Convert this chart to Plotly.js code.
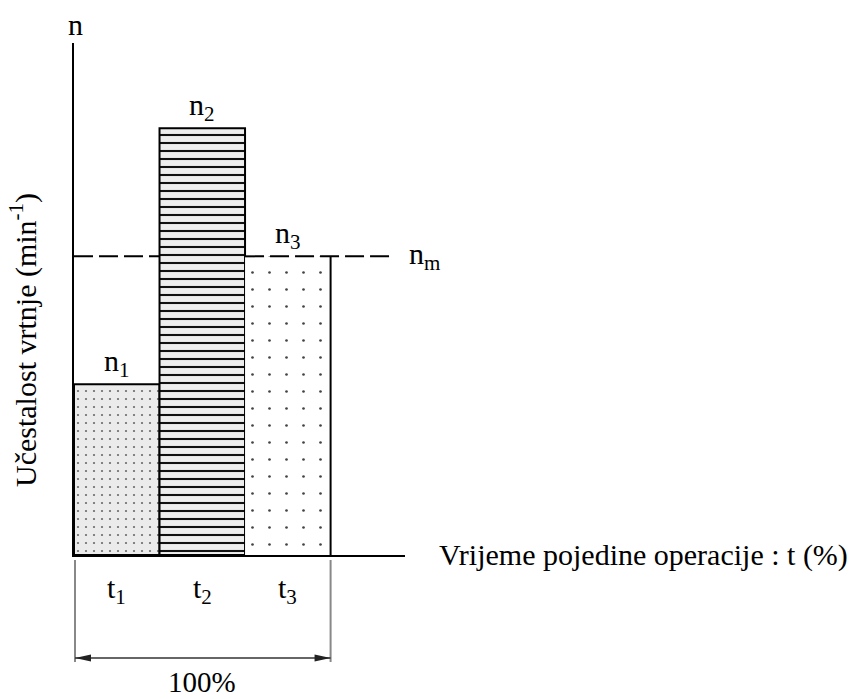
<!DOCTYPE html>
<html>
<head>
<meta charset="utf-8">
<script src="https://cdn.plot.ly/plotly-3.0.1.min.js"></script>
<style>
html,body{margin:0;padding:0;background:#fff;}
#warm{position:absolute;left:68px;top:6px;z-index:0;font-family:'Liberation Serif';font-size:30px;color:#fff;line-height:30px;}
#chart{position:absolute;left:0;top:0;z-index:1;width:861px;height:699px;}
</style>
</head>
<body>
<div id="warm">n</div>
<div id="chart"></div>
<script>
// ---- data ----
const categories = ['t<sub>1</sub>', 't<sub>2</sub>', 't<sub>3</sub>'];
const timeShare = [33.33, 33.33, 33.34];          // % of total time
const speeds = [40, 100, 70];                      // relative rotation speed n
const speedLabels = ['n<sub>1</sub>', 'n<sub>2</sub>', 'n<sub>3</sub>'];
const meanSpeed = 70;                              // n_m
const totalLabel = '100%';

// ---- derived positions ----
const starts = [];
let acc = 0;
timeShare.forEach(s => { starts.push(acc); acc += s; });
const centers = timeShare.map((s, i) => starts[i] + s / 2);
const total = acc;

const xr = [0, 129];
const yr = [0, 120];
const plotW = 331, plotH = 512;
const xFrac = v => (v - xr[0]) / (xr[1] - xr[0]);
const px = p => p / plotW;   // pixels -> paper x
const py = p => p / plotH;   // pixels -> paper y

const FONT = 'Liberation Serif';

const styles = [
  { bg: '#ebebeb', fg: '#6a6a6a', shape: '.', size: 8, solidity: 0.06, lw: 2 },
  { bg: '#eeeeee', fg: '#111111', shape: '-', size: 8, solidity: 0.26, lw: 2 },
  { bg: '#ffffff', fg: '#444444', shape: '.', size: 17, solidity: 0.02, lw: 0 }
];

const traces = speeds.map((v, i) => ({
  type: 'bar',
  x: [centers[i]],
  y: [v],
  width: [timeShare[i]],
  name: categories[i],
  hoverinfo: 'skip',
  marker: {
    color: styles[i].bg,
    line: { color: '#000', width: styles[i].lw },
    pattern: {
      shape: styles[i].shape,
      size: styles[i].size,
      solidity: styles[i].solidity,
      fgcolor: styles[i].fg,
      bgcolor: styles[i].bg,
      fgopacity: 1,
      fillmode: 'replace'
    }
  }
}));

const txt = (size) => ({ family: FONT, size: size });
const annotations = [];
annotations.push({ xref: 'paper', yref: 'paper', x: px(1), y: 1 + py(19), text: 'n', showarrow: false,
  xanchor: 'center', yanchor: 'middle', font: txt(30) });
annotations.push({ xref: 'paper', yref: 'paper', x: -px(51), y: py(215), text: 'Učestalost vrtnje (min<sup>-1</sup>)',
  textangle: -90, showarrow: false, xanchor: 'center', yanchor: 'middle', font: txt(30) });
annotations.push({ xref: 'paper', yref: 'paper', x: px(363), y: 0, text: 'Vrijeme pojedine operacije : t (%)',
  showarrow: false, xanchor: 'left', yanchor: 'middle', font: txt(30) });
speeds.forEach((v, i) => {
  annotations.push({ xref: 'x', yref: 'y', x: centers[i], y: v, text: speedLabels[i], showarrow: false,
    xanchor: 'center', yanchor: 'bottom', font: txt(30) });
  annotations.push({ xref: 'x', yref: 'paper', x: centers[i], y: -py(35), text: categories[i], showarrow: false,
    xanchor: 'center', yanchor: 'middle', font: txt(30) });
});
annotations.push({ xref: 'paper', yref: 'y', x: px(333), y: meanSpeed, text: 'n<sub>m</sub>', showarrow: false,
  xanchor: 'left', yanchor: 'middle', font: txt(30) });
annotations.push({ xref: 'paper', yref: 'paper', x: xFrac(total / 2), y: -py(127), text: totalLabel, showarrow: false,
  xanchor: 'center', yanchor: 'middle', font: txt(29), borderpad: 0 });

const dimY = -py(103);
const x0p = xFrac(starts[0]), x1p = xFrac(total);
const dashLine = { color: '#000', width: 2, dash: '19px,6px' };
const shapes = [
  { type: 'line', xref: 'x', yref: 'y', x0: 0, x1: starts[1], y0: meanSpeed, y1: meanSpeed,
    line: dashLine, layer: 'above' },
  { type: 'line', xref: 'x', yref: 'y', x0: starts[2], x1: 124.7, y0: meanSpeed, y1: meanSpeed,
    line: dashLine, layer: 'above' },
  { type: 'line', xref: 'x', yref: 'y', x0: total, x1: total, y0: 0, y1: speeds[2],
    line: { color: '#000', width: 2 }, layer: 'above' },
  { type: 'line', xref: 'paper', yref: 'paper', x0: x0p + px(1), x1: x0p + px(1), y0: -py(5), y1: -py(107),
    line: { color: '#888', width: 2 } },
  { type: 'line', xref: 'paper', yref: 'paper', x0: x1p, x1: x1p, y0: -py(5), y1: -py(107),
    line: { color: '#888', width: 2 } },
  { type: 'line', xref: 'paper', yref: 'paper', x0: x0p + px(1), x1: x1p, y0: dimY, y1: dimY,
    line: { color: '#333', width: 1.5 } },
  { type: 'path', xref: 'paper', yref: 'paper',
    path: `M ${x0p + px(1)},${dimY} L ${x0p + px(17)},${dimY + py(3.5)} L ${x0p + px(17)},${dimY - py(3.5)} Z`,
    fillcolor: '#222', line: { width: 0 } },
  { type: 'path', xref: 'paper', yref: 'paper',
    path: `M ${x1p},${dimY} L ${x1p - px(16)},${dimY + py(3.5)} L ${x1p - px(16)},${dimY - py(3.5)} Z`,
    fillcolor: '#222', line: { width: 0 } }
];

const layout = {
  width: 861, height: 699,
  margin: { l: 74, r: 456, t: 43, b: 144, pad: 0 },
  paper_bgcolor: '#fff', plot_bgcolor: '#fff',
  showlegend: false,
  barmode: 'overlay',
  font: { family: FONT, color: '#000' },
  xaxis: { range: xr, showgrid: false, zeroline: false, showticklabels: false, ticks: '',
    showline: true, linecolor: '#000', linewidth: 2, fixedrange: true },
  yaxis: { range: yr, showgrid: false, zeroline: false, showticklabels: false, ticks: '',
    showline: true, linecolor: '#000', linewidth: 2, fixedrange: true },
  annotations: annotations,
  shapes: shapes
};

Plotly.newPlot('chart', traces, layout, { displayModeBar: false });
</script>
</body>
</html>
